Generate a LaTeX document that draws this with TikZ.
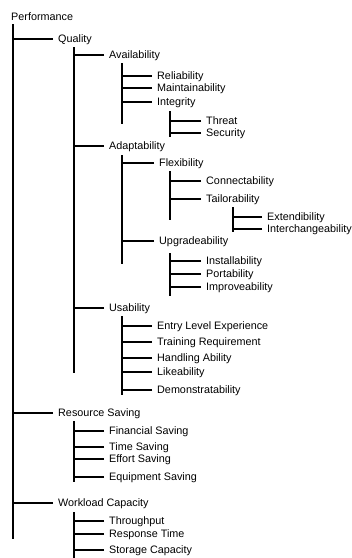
\documentclass[tikz,border=0pt]{standalone}
\usepackage{fontspec}
\setmainfont{Liberation Sans}
\tikzset{
  item/.style={anchor=west, inner xsep=5pt, inner ysep=0pt, text height=7.5pt, text depth=0pt, font=\fontsize{10.8}{12}\selectfont},
  branch/.style={line width=1.4pt}
}
\begin{document}
\begin{tikzpicture}[x=1pt,y=-1pt]
\useasboundingbox (0,0) rectangle (352,558);
% labels
\node[item] (perf) at (6,17) {Performance};
\node[item] (qual) at (53,39) {Quality};
\node[item] (avail) at (104,55) {Availability};
\node[item] (rel) at (152,76) {Reliability};
\node[item] (main) at (152,88) {Maintainability};
\node[item] (integ) at (152,102) {Integrity};
\node[item] (threat) at (201,121) {Threat};
\node[item] (sec) at (201,133) {Security};
\node[item] (adapt) at (104,146) {Adaptability};
\node[item] (flex) at (154,163) {Flexibility};
\node[item] (conn) at (201,181) {Connectability};
\node[item] (tail) at (201,199) {Tailorability};
\node[item] (ext) at (262,217) {Extendibility};
\node[item] (inter) at (262,229) {Interchangeability};
\node[item] (upg) at (154,241) {Upgradeability};
\node[item] (inst) at (201,261) {Installability};
\node[item] (port) at (201,274) {Portability};
\node[item] (impr) at (201,287) {Improveability};
\node[item] (usab) at (104,308) {Usability};
\node[item] (entry) at (152,326) {Entry Level Experience};
\node[item] (train) at (152,342) {Training Requirement};
\node[item] (handl) at (152,358) {Handling Ability};
\node[item] (like) at (152,372) {Likeability};
\node[item] (demo) at (152,390) {Demonstratability};
\node[item] (res) at (53,413) {Resource Saving};
\node[item] (fin) at (104,431) {Financial Saving};
\node[item] (time) at (104,447) {Time Saving};
\node[item] (eff) at (104,459) {Effort Saving};
\node[item] (equip) at (104,477) {Equipment Saving};
\node[item] (work) at (53,503) {Workload Capacity};
\node[item] (thru) at (104,521) {Throughput};
\node[item] (resp) at (104,534) {Response Time};
\node[item] (stor) at (104,550) {Storage Capacity};
% trunks
\coordinate (perf-t) at (13,24);  \coordinate (perf-b) at (13,539);
\coordinate (qual-t) at (74,47);  \coordinate (qual-b) at (74,373);
\coordinate (avail-t) at (122,63); \coordinate (avail-b) at (122,124);
\coordinate (integ-t) at (170,111); \coordinate (integ-b) at (170,137);
\coordinate (adapt-t) at (122,155); \coordinate (adapt-b) at (122,264);
\coordinate (flex-t) at (170,171); \coordinate (flex-b) at (170,220);
\coordinate (tail-t) at (233,207); \coordinate (tail-b) at (233,232);
\coordinate (upg-t) at (170,253); \coordinate (upg-b) at (170,296);
\coordinate (usab-t) at (122,316); \coordinate (usab-b) at (122,395);
\coordinate (res-t) at (74,421); \coordinate (res-b) at (74,482);
\coordinate (work-t) at (74,512); \coordinate (work-b) at (74,558);
\draw[branch] (perf-t) -- (perf-b);
\draw[branch] (qual-t) -- (qual-b);
\draw[branch] (avail-t) -- (avail-b);
\draw[branch] (integ-t) -- (integ-b);
\draw[branch] (adapt-t) -- (adapt-b);
\draw[branch] (flex-t) -- (flex-b);
\draw[branch] (tail-t) -- (tail-b);
\draw[branch] (upg-t) -- (upg-b);
\draw[branch] (usab-t) -- (usab-b);
\draw[branch] (res-t) -- (res-b);
\draw[branch] (work-t) -- (work-b);
% branches
\draw[branch] (qual.west) -- (qual.west -| perf-t);
\draw[branch] (res.west) -- (res.west -| perf-t);
\draw[branch] (work.west) -- (work.west -| perf-t);
\draw[branch] (avail.west) -- (avail.west -| qual-t);
\draw[branch] (adapt.west) -- (adapt.west -| qual-t);
\draw[branch] (usab.west) -- (usab.west -| qual-t);
\draw[branch] (rel.west) -- (rel.west -| avail-t);
\draw[branch] (main.west) -- (main.west -| avail-t);
\draw[branch] (integ.west) -- (integ.west -| avail-t);
\draw[branch] (threat.west) -- (threat.west -| integ-t);
\draw[branch] (sec.west) -- (sec.west -| integ-t);
\draw[branch] (flex.west) -- (flex.west -| adapt-t);
\draw[branch] (upg.west) -- (upg.west -| adapt-t);
\draw[branch] (conn.west) -- (conn.west -| flex-t);
\draw[branch] (tail.west) -- (tail.west -| flex-t);
\draw[branch] (ext.west) -- (ext.west -| tail-t);
\draw[branch] (inter.west) -- (inter.west -| tail-t);
\draw[branch] (inst.west) -- (inst.west -| upg-t);
\draw[branch] (port.west) -- (port.west -| upg-t);
\draw[branch] (impr.west) -- (impr.west -| upg-t);
\draw[branch] (entry.west) -- (entry.west -| usab-t);
\draw[branch] (train.west) -- (train.west -| usab-t);
\draw[branch] (handl.west) -- (handl.west -| usab-t);
\draw[branch] (like.west) -- (like.west -| usab-t);
\draw[branch] (demo.west) -- (demo.west -| usab-t);
\draw[branch] (fin.west) -- (fin.west -| res-t);
\draw[branch] (time.west) -- (time.west -| res-t);
\draw[branch] (eff.west) -- (eff.west -| res-t);
\draw[branch] (equip.west) -- (equip.west -| res-t);
\draw[branch] (thru.west) -- (thru.west -| work-t);
\draw[branch] (resp.west) -- (resp.west -| work-t);
\draw[branch] (stor.west) -- (stor.west -| work-t);
\end{tikzpicture}
\end{document}
